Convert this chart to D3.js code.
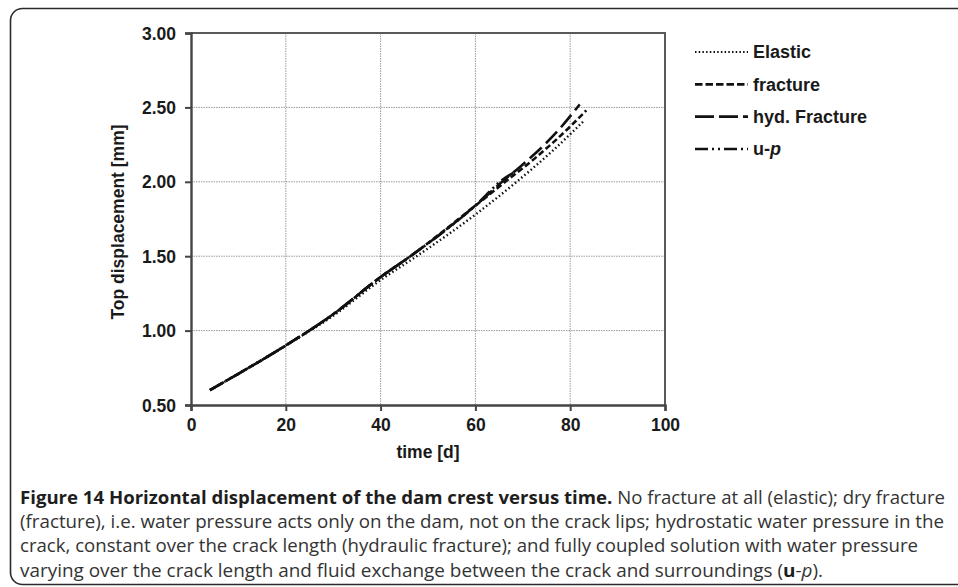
<!DOCTYPE html>
<html>
<head>
<meta charset="utf-8">
<script src="https://cdn.jsdelivr.net/npm/d3@7"></script>
<style>
  html, body { margin: 0; padding: 0; background: #fff; }
  svg { display: block; }
</style>
</head>
<body>
<svg id="fig" width="958" height="587"></svg>
<script>
// Top displacement of the dam crest over time for four model variants
const xTicks = [0, 20, 40, 60, 80, 100];
const yTicks = [0.5, 1.0, 1.5, 2.0, 2.5, 3.0];

const elasticTime  = [4, 10, 20, 30, 40, 47.6, 60, 68.7, 76, 82.9];
const elasticDisp  = [0.60, 0.71, 0.90, 1.10, 1.34, 1.50, 1.78, 2.00, 2.20, 2.41];

const fractureTime = [4, 10, 20, 30, 40, 46.3, 60, 66.3, 73, 79.3, 83.4];
const fractureDisp = [0.60, 0.71, 0.90, 1.11, 1.36, 1.50, 1.84, 2.00, 2.17, 2.35, 2.48];

const hydTime      = [4, 10, 20, 30, 40, 46.3, 60, 66, 69.4, 77.6, 82];
const hydDisp      = [0.60, 0.71, 0.90, 1.11, 1.36, 1.50, 1.84, 2.01, 2.10, 2.35, 2.52];

const upTime       = [4, 10, 20, 30, 40, 46.3, 60, 66, 68];
const upDisp       = [0.60, 0.71, 0.90, 1.11, 1.36, 1.50, 1.84, 2.02, 2.06];

const seriesNames = ["Elastic", "fracture", "hyd. Fracture", "u-p"];

const series = [
  { name: seriesNames[0], t: elasticTime,  v: elasticDisp,  dash: "1.5,2.6", width: 2.4 },
  { name: seriesNames[1], t: fractureTime, v: fractureDisp, dash: "6,3",     width: 2.6 },
  { name: seriesNames[2], t: hydTime,      v: hydDisp,      dash: "16,6",    width: 2.6 },
  { name: seriesNames[3], t: upTime,       v: upDisp,       dash: "14,4,2,4,2,4", width: 2.6 }
];

const svg = d3.select("#fig");
const font = "'Liberation Sans', Arial, sans-serif";

// outer rounded frame
svg.append("rect")
  .attr("x", 10.5).attr("y", 8.5)
  .attr("width", 970).attr("height", 576)
  .attr("rx", 12).attr("ry", 12)
  .attr("fill", "none").attr("stroke", "#2b2b2b").attr("stroke-width", 1.6);

const x = d3.scaleLinear().domain([0, 100]).range([191, 665]);
const y = d3.scaleLinear().domain([0.5, 3.0]).range([405, 33]);

// grid
const grid = svg.append("g");
grid.selectAll("line.gx").data(xTicks.slice(1, -1)).join("line")
  .attr("x1", d => x(d)).attr("x2", d => x(d))
  .attr("y1", y(3.0)).attr("y2", y(0.5))
  .attr("stroke", "#9a9a9a").attr("stroke-width", 1).attr("stroke-dasharray", "1.5,1");
grid.selectAll("line.gy").data(yTicks.slice(1, -1)).join("line")
  .attr("x1", x(0)).attr("x2", x(100))
  .attr("y1", d => y(d)).attr("y2", d => y(d))
  .attr("stroke", "#9a9a9a").attr("stroke-width", 1).attr("stroke-dasharray", "1.5,1");

// plot border (top and right)
svg.append("path")
  .attr("d", `M${x(0)},${y(3)}H${x(100)}V${y(0.5)}`)
  .attr("fill", "none").attr("stroke", "#5a5a5a").attr("stroke-width", 2);

// axes
const xAxis = svg.append("g").attr("transform", `translate(0,${y(0.5)})`)
  .call(d3.axisBottom(x).tickValues(xTicks).tickSize(6).tickPadding(6).tickFormat(d3.format("d")));
const yAxis = svg.append("g").attr("transform", `translate(${x(0)},0)`)
  .call(d3.axisLeft(y).tickValues(yTicks).tickSize(6).tickPadding(9).tickFormat(d3.format(".2f")));

[xAxis, yAxis].forEach(a => {
  a.select(".domain").attr("stroke", "#444").attr("stroke-width", 2.4);
  a.selectAll(".tick line").attr("stroke", "#444").attr("stroke-width", 2);
  a.selectAll(".tick text")
    .attr("font-family", font).attr("font-weight", "bold")
    .attr("font-size", 17.5).attr("fill", "#1a1a1a");
});
xAxis.selectAll(".tick text").attr("dy", "0.8em");
yAxis.selectAll(".tick text").attr("dy", "0.35em");

// axis titles
svg.append("text")
  .attr("x", 428).attr("y", 458)
  .attr("text-anchor", "middle")
  .attr("font-family", font).attr("font-weight", "bold").attr("font-size", 17.5)
  .attr("fill", "#1a1a1a")
  .text("time [d]");
svg.append("text")
  .attr("transform", "translate(124,222) rotate(-90)")
  .attr("text-anchor", "middle")
  .attr("font-family", font).attr("font-weight", "bold").attr("font-size", 17.5)
  .attr("fill", "#1a1a1a")
  .text("Top displacement [mm]");

// curves
const line = d3.line()
  .x(d => x(d[0])).y(d => y(d[1]))
  .curve(d3.curveMonotoneX);

svg.append("g").selectAll("path").data(series).join("path")
  .attr("d", s => line(s.t.map((t, i) => [t, s.v[i]])))
  .attr("fill", "none").attr("stroke", "#111")
  .attr("stroke-width", s => s.width)
  .attr("stroke-dasharray", s => s.dash);

// legend
const legend = svg.append("g");
const legY = d3.scalePoint().domain(seriesNames).range([52, 149]);
legend.selectAll("line").data(series).join("line")
  .attr("x1", 695).attr("x2", 748)
  .attr("y1", s => legY(s.name)).attr("y2", s => legY(s.name))
  .attr("stroke", "#111")
  .attr("stroke-width", s => s.name === "Elastic" ? 2 : 2.6)
  .attr("stroke-dasharray", s => s.name === "Elastic" ? "1.5,2.2" : s.name === "fracture" ? "7.5,3" : s.name === "hyd. Fracture" ? "19,5" : "13,4,2,4,2,4");

const legText = legend.selectAll("text").data(series).join("text")
  .attr("x", 753).attr("y", s => legY(s.name))
  .attr("dy", "0.36em")
  .attr("font-family", font).attr("font-weight", "bold").attr("font-size", 18)
  .attr("fill", "#1a1a1a");
legText.each(function(s) {
  const t = d3.select(this);
  if (s.name === "u-p") {
    t.append("tspan").text("u-");
    t.append("tspan").attr("font-style", "italic").text("p");
  } else {
    t.text(s.name);
  }
});

// caption
const capFont = "'Open Sans', 'Noto Sans', sans-serif";
const capLines = [
  { y: 504, len: 925, parts: [
    { t: "Figure 14 Horizontal displacement of the dam crest versus time.", b: true },
    { t: " No fracture at all (elastic); dry fracture" }] },
  { y: 528, len: 924, parts: [
    { t: "(fracture), i.e. water pressure acts only on the dam, not on the crack lips; hydrostatic water pressure in the" }] },
  { y: 552, len: 898, parts: [
    { t: "crack, constant over the crack length (hydraulic fracture); and fully coupled solution with water pressure" }] },
  { y: 577, len: 803, parts: [
    { t: "varying over the crack length and fluid exchange between the crack and surroundings (" },
    { t: "u", b: true }, { t: "-" }, { t: "p", i: true }, { t: ")." }] }
];
const cap = svg.append("g");
capLines.forEach(l => {
  const txt = cap.append("text")
    .attr("x", 20).attr("y", l.y)
    .attr("font-family", capFont).attr("font-size", 17.5)
    .attr("fill", "#333")
    .attr("textLength", l.len).attr("lengthAdjust", "spacingAndGlyphs");
  l.parts.forEach(p => {
    const ts = txt.append("tspan").text(p.t);
    if (p.b) ts.attr("font-weight", "bold").attr("fill", "#1e1e1e");
    if (p.i) ts.attr("font-style", "italic");
  });
});
</script>
</body>
</html>
